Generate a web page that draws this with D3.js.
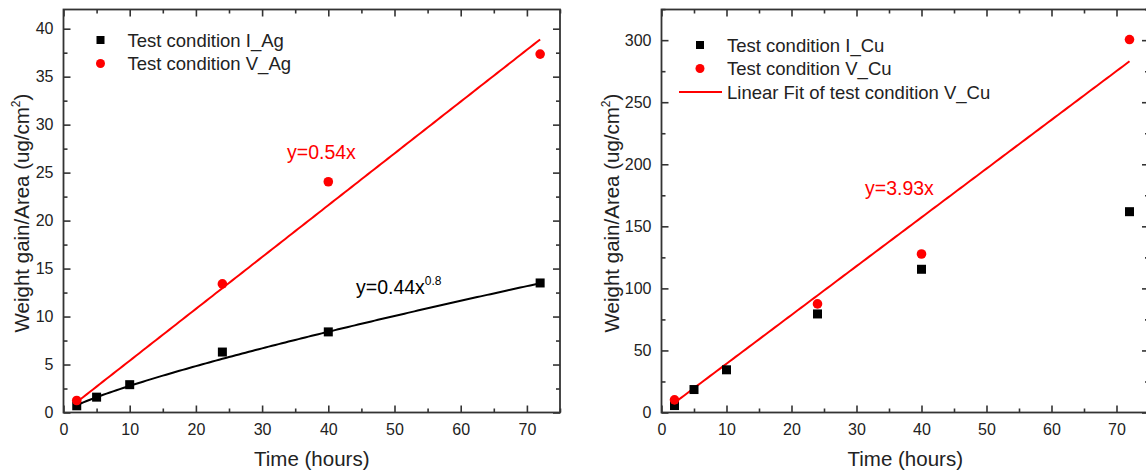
<!DOCTYPE html>
<html>
<head>
<meta charset="UTF-8" />
<script src="https://d3js.org/d3.v7.min.js"></script>
<style>
  body { margin: 0; background: #fff; }
  svg { display: block; font-family: "Liberation Sans", Arial, sans-serif; }
  .tick text { fill: #222; }
</style>
</head>
<body>
<div id="chart"></div>
<script>
// sampling times (hours)
const agTimesI = [2, 5, 10, 24, 40, 72];
const agGainI = [0.7, 1.6, 2.9, 6.3, 8.4, 13.5];
const agTimesV = [2, 24, 40, 72];
const agGainV = [1.25, 13.4, 24.05, 37.35];

const cuTimesI = [2, 5, 10, 24, 40, 72];
const cuGainI = [5.6, 18.5, 34.4, 79.4, 115.4, 161.8];
const cuTimesV = [2, 24, 40, 72];
const cuGainV = [10.2, 87.5, 127.7, 300.5];

// fitted curves: y = a * x^b
const agFitI = { a: 0.44, b: 0.8, label: "y=0.44x", sup: "0.8" };
const agFitV = { a: 0.54, b: 1, label: "y=0.54x" };
const cuFitV = { a: 3.93, b: 1, label: "y=3.93x" };

const xTicks = [0, 10, 20, 30, 40, 50, 60, 70];
const xMinor = [5, 15, 25, 35, 45, 55, 65, 75];
const agYTicks = [0, 5, 10, 15, 20, 25, 30, 35, 40];
const agYMinor = [2.5, 7.5, 12.5, 17.5, 22.5, 27.5, 32.5, 37.5];
const cuYTicks = [0, 50, 100, 150, 200, 250, 300];
const cuYMinor = [25, 75, 125, 175, 225, 275, 325];

const red = "#ff0000";
const ink = "#222";
const frame = "#333";

const svg = d3.select("#chart").append("svg")
    .attr("width", 1146)
    .attr("height", 470);

function drawPanel(opt) {
    const x = d3.scaleLinear().domain([0, 75]).range([opt.left, opt.right]);
    const y = d3.scaleLinear().domain(opt.yDomain).range([412.5, 9.5]);
    const g = svg.append("g");

    // inward ticks on all four sides
    const axes = [
        [d3.axisBottom(x).tickValues(xTicks).tickSize(-7).tickPadding(11).tickSizeOuter(0), `translate(0,${y.range()[0]})`, true],
        [d3.axisBottom(x).tickValues(xMinor).tickSize(-4).tickFormat("").tickSizeOuter(0), `translate(0,${y.range()[0]})`, false],
        [d3.axisTop(x).tickValues(xTicks).tickSize(-7).tickFormat("").tickSizeOuter(0), `translate(0,${y.range()[1]})`, false],
        [d3.axisTop(x).tickValues(xMinor).tickSize(-4).tickFormat("").tickSizeOuter(0), `translate(0,${y.range()[1]})`, false],
        [d3.axisLeft(y).tickValues(opt.yTicks).tickSize(-7).tickPadding(10).tickSizeOuter(0), `translate(${opt.left},0)`, true],
        [d3.axisLeft(y).tickValues(opt.yMinor).tickSize(-4).tickFormat("").tickSizeOuter(0), `translate(${opt.left},0)`, false],
        [d3.axisRight(y).tickValues(opt.yTicks).tickSize(-7).tickFormat("").tickSizeOuter(0), `translate(${opt.right},0)`, false],
        [d3.axisRight(y).tickValues(opt.yMinor).tickSize(-4).tickFormat("").tickSizeOuter(0), `translate(${opt.right},0)`, false]
    ];
    axes.forEach(([ax, tr, labelled]) => {
        const a = g.append("g").attr("transform", tr).call(ax);
        a.select(".domain").remove();
        a.selectAll(".tick line").attr("stroke", frame).attr("stroke-width", 1.6);
        if (labelled) a.selectAll(".tick text").attr("font-size", 16).attr("font-family", "Liberation Sans, Arial, sans-serif");
    });

    g.append("rect")
        .attr("x", opt.left).attr("y", y.range()[1])
        .attr("width", opt.right - opt.left)
        .attr("height", y.range()[0] - y.range()[1])
        .attr("fill", "none").attr("stroke", frame).attr("stroke-width", 1.8);

    // fit curves
    const line = d3.line().x(d => x(d[0])).y(d => y(d[1]));
    opt.fits.forEach(f => {
        const pts = d3.range(2, 72.001, 0.5).map(t => [t, f.a * Math.pow(t, f.b)]);
        g.append("path").datum(pts)
            .attr("d", line).attr("fill", "none")
            .attr("stroke", f.color).attr("stroke-width", 2);
        const t = g.append("text")
            .attr("x", f.pos[0]).attr("y", f.pos[1])
            .attr("fill", f.color).attr("font-size", 19.5)
            .text(f.label);
        if (f.sup) t.append("tspan").attr("dy", -9).attr("font-size", 12).text(f.sup);
    });

    // markers
    g.append("g").selectAll("rect")
        .data(d3.zip(opt.tI, opt.vI))
        .join("rect")
        .attr("x", d => x(d[0]) - 4.5).attr("y", d => y(d[1]) - 4.5)
        .attr("width", 9).attr("height", 9).attr("fill", "#000");
    g.append("g").selectAll("circle")
        .data(d3.zip(opt.tV, opt.vV))
        .join("circle")
        .attr("cx", d => x(d[0])).attr("cy", d => y(d[1]))
        .attr("r", 4.8).attr("fill", red);

    // legend
    const lg = g.append("g");
    opt.legend.forEach((item, i) => {
        const cy = opt.legendY + i * 23.5;
        if (item.type === "square") {
            lg.append("rect").attr("x", opt.legendX - 4).attr("y", cy - 4)
                .attr("width", 8).attr("height", 8).attr("fill", "#000");
        } else if (item.type === "circle") {
            lg.append("circle").attr("cx", opt.legendX).attr("cy", cy)
                .attr("r", 4.5).attr("fill", red);
        } else {
            lg.append("line").attr("x1", opt.legendX - 21).attr("x2", opt.legendX + 22)
                .attr("y1", cy).attr("y2", cy)
                .attr("stroke", red).attr("stroke-width", 2);
        }
        lg.append("text")
            .attr("x", opt.legendX + 27).attr("y", cy + 6.5)
            .attr("font-size", 18.5).attr("fill", ink)
            .text(item.label);
    });

    // axis titles
    g.append("text")
        .attr("x", (opt.left + opt.right) / 2).attr("y", 466)
        .attr("text-anchor", "middle").attr("font-size", 20.5).attr("fill", ink)
        .text("Time (hours)");
    const yt = g.append("text")
        .attr("transform", `translate(${opt.titleX},213) rotate(-90)`)
        .attr("text-anchor", "middle").attr("font-size", 20.5).attr("fill", ink)
        .text("Weight gain/Area (ug/cm");
    yt.append("tspan").attr("dy", -9).attr("font-size", 12).text("2");
    yt.append("tspan").attr("dy", 9).text(")");
}

drawPanel({
    left: 63.5, right: 560,
    yDomain: [0, 42], yTicks: agYTicks, yMinor: agYMinor,
    tI: agTimesI, vI: agGainI, tV: agTimesV, vV: agGainV,
    fits: [
        Object.assign({ color: red, pos: [287, 159] }, agFitV),
        Object.assign({ color: "#000", pos: [356, 294] }, agFitI)
    ],
    legendX: 100.5, legendY: 40,
    legend: [
        { type: "square", label: "Test condition I_Ag" },
        { type: "circle", label: "Test condition V_Ag" }
    ],
    titleX: 29
});

drawPanel({
    left: 661.5, right: 1149,
    yDomain: [0, 324.7], yTicks: cuYTicks, yMinor: cuYMinor,
    tI: cuTimesI, vI: cuGainI, tV: cuTimesV, vV: cuGainV,
    fits: [
        Object.assign({ color: red, pos: [865, 195] }, cuFitV)
    ],
    legendX: 700, legendY: 45,
    legend: [
        { type: "square", label: "Test condition I_Cu" },
        { type: "circle", label: "Test condition V_Cu" },
        { type: "line", label: "Linear Fit of test condition V_Cu" }
    ],
    titleX: 619
});
</script>
</body>
</html>
